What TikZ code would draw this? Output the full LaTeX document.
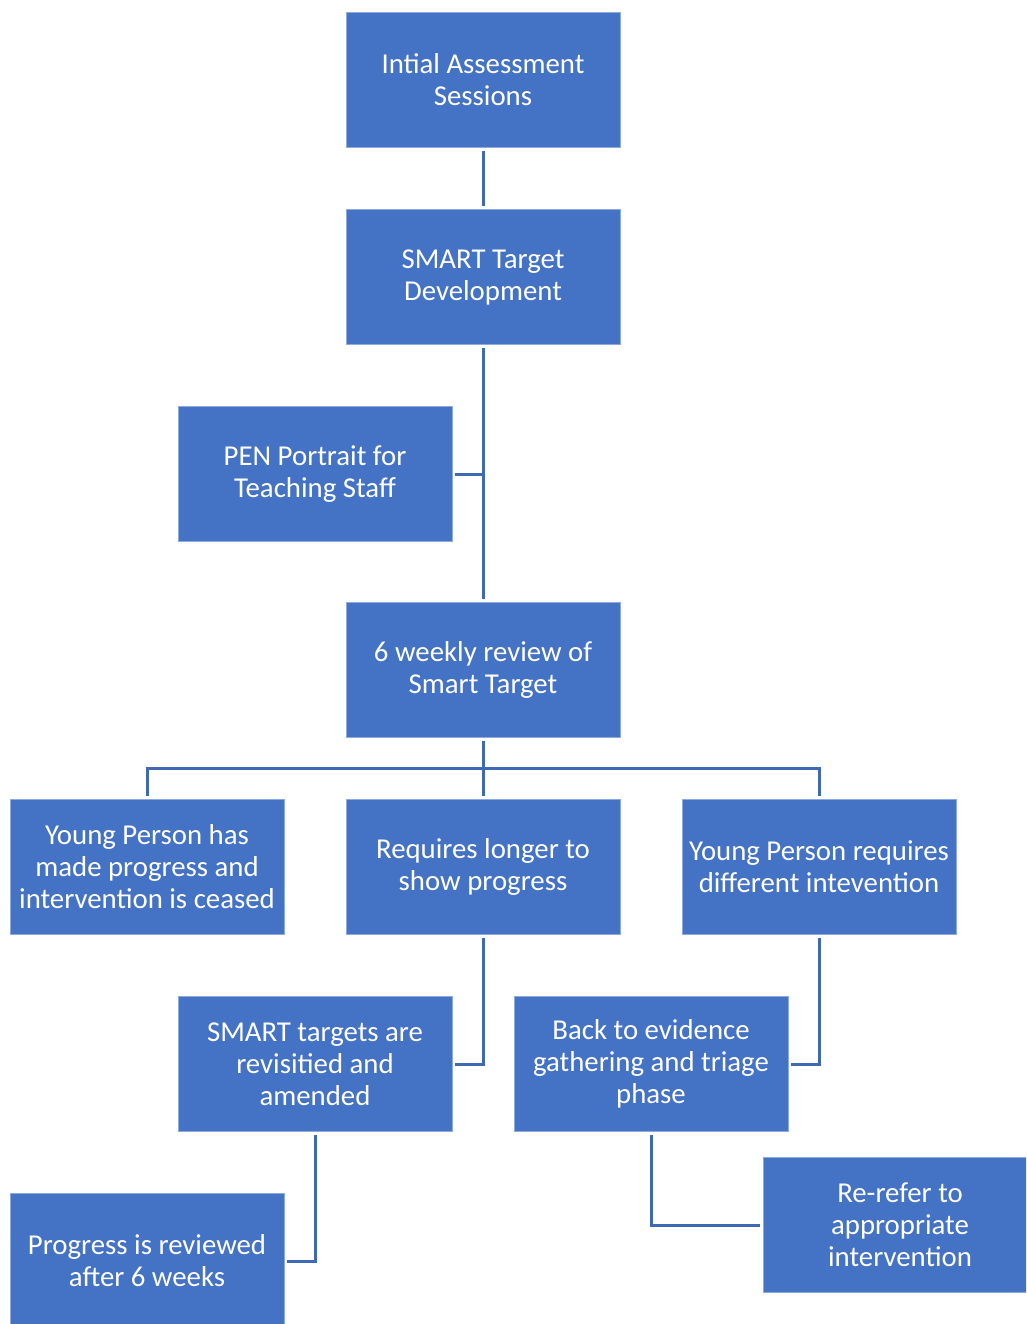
\documentclass[tikz,border=0pt]{standalone}
\usepackage{fontspec}
\setmainfont{Carlito}
\begin{document}
\begin{tikzpicture}[x=1pt,y=-1pt,
  box/.style={rectangle,fill=boxblue,draw=boxedge,line width=0.8pt,minimum width=274pt,minimum height=135pt,
    align=center,inner sep=0pt,text=white,font=\fontsize{28.8}{32}\selectfont},
  conn/.style={draw=lineblue,line width=3pt}]
\definecolor{boxblue}{HTML}{4472C4}
\definecolor{boxedge}{HTML}{8FAADC}
\definecolor{lineblue}{HTML}{3F68B5}
\useasboundingbox (0,0) rectangle (1026,1324);
\clip (0,0) rectangle (1026,1324);
\node[box] (a) at (483,80) {Intial Assessment\\Sessions};
\node[box] (b) at (483,277) {SMART Target\\Development};
\node[box] (c) at (315,474) {PEN Portrait for\\Teaching Staff};
\node[box] (d) at (483,670) {6 weekly review of\\Smart Target};
\node[box] (e) at (147,867) {Young Person has\\made progress and\\intervention is ceased};
\node[box] (f) at (483,867) {Requires longer to\\show progress};
\node[box] (g) at (819,867) {Young Person requires\\different intevention};
\node[box] (h) at (315,1064) {SMART targets are\\revisitied and\\amended};
\node[box] (i) at (651,1064) {Back to evidence\\gathering and triage\\phase};
\node[box] (j) at (900,1225) {Re-refer to\\appropriate\\intervention};
\node[box] (k) at (147,1261) {Progress is reviewed\\after 6 weeks};
\coordinate (bus) at (483,768);
\draw[conn] ([yshift=-3pt]a.south) -- ([yshift=3pt]b.north);
\draw[conn] ([yshift=-3pt]b.south) -- ([yshift=3pt]d.north);
\draw[conn] ([xshift=3pt]c.east) -- (c.east -| b.south);
\draw[conn] ([yshift=-3pt]d.south) -- (bus);
\draw[conn] ([yshift=3pt]e.north) |- (bus);
\draw[conn] ([yshift=3pt]g.north) |- (bus);
\draw[conn] (bus) -- ([yshift=3pt]f.north);
\draw[conn] ([yshift=-3pt]f.south) |- ([xshift=3pt]h.east);
\draw[conn] ([yshift=-3pt]g.south) |- ([xshift=3pt]i.east);
\draw[conn] ([yshift=-3pt]h.south) |- ([xshift=3pt]k.east);
\draw[conn] ([yshift=-3pt]i.south) |- ([xshift=-3pt]j.west);
\end{tikzpicture}
\end{document}
